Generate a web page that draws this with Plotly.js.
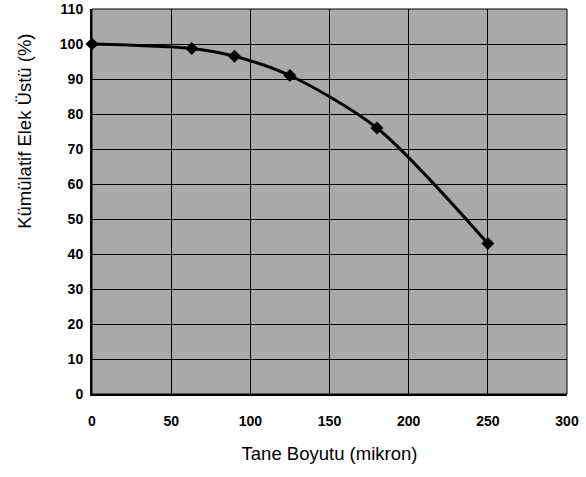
<!DOCTYPE html>
<html>
<head>
<meta charset="utf-8">
<script src="https://cdn.plot.ly/plotly-3.0.1.min.js"></script>
<style>html,body{margin:0;padding:0;background:#fff;}#chart{width:586px;height:477px;}</style>
</head>
<body>
<div id="chart"></div>
<script>
var sizes = [0, 63, 90, 125, 180, 250];
var cumulative = [100, 98.7, 96.5, 91, 76, 43];
var xTicks = [0, 50, 100, 150, 200, 250, 300];
var yTicks = [0, 10, 20, 30, 40, 50, 60, 70, 80, 90, 100, 110];

var trace = {
  x: sizes, y: cumulative, type: 'scatter', mode: 'lines+markers',
  line: {color: '#000', width: 3, shape: 'spline', smoothing: 0.8},
  marker: {symbol: 'diamond', size: 10, color: '#000'},
  cliponaxis: false
};
var tf = {size: 14, family: 'Liberation Sans, Arial', weight: 'bold', color: '#000'};
var layout = {
  width: 586, height: 477,
  margin: {l: 92, r: 19, t: 9, b: 83},
  paper_bgcolor: '#fff', plot_bgcolor: '#a9a9a9',
  showlegend: false,
  font: {family: 'Liberation Sans, Arial, sans-serif', color: '#000'},
  xaxis: {
    range: [0, 300], tickvals: xTicks, ticktext: xTicks.map(String),
    showgrid: true, gridcolor: '#000', gridwidth: 1,
    showline: true, linecolor: '#000', linewidth: 2, mirror: false,
    zeroline: false, ticks: '', ticklen: 0, tickfont: tf, ticklabelstandoff: 13,
    title: {text: 'Tane Boyutu (mikron)', font: {size: 18.5}, standoff: 19}
  },
  yaxis: {
    range: [0, 110], tickvals: yTicks, ticktext: yTicks.map(String),
    showgrid: true, gridcolor: '#000', gridwidth: 1,
    showline: true, linecolor: '#000', linewidth: 2,
    zeroline: false, ticks: '', tickfont: tf, ticklabelstandoff: 4
  },
  annotations: [{
    text: 'Kümülatif Elek Üstü (%)', textangle: -90, showarrow: false,
    xref: 'paper', yref: 'paper', x: -0.141, y: 0.681,
    xanchor: 'center', yanchor: 'middle', font: {size: 18.5, color: '#000'}
  }],
  shapes: [{type: 'rect', xref: 'paper', yref: 'paper', x0: 0, x1: 1, y0: 0, y1: 1, line: {color: '#000', width: 1}}]
};
Plotly.newPlot('chart', [trace], layout, {displayModeBar: false, staticPlot: true});
</script>
</body>
</html>
